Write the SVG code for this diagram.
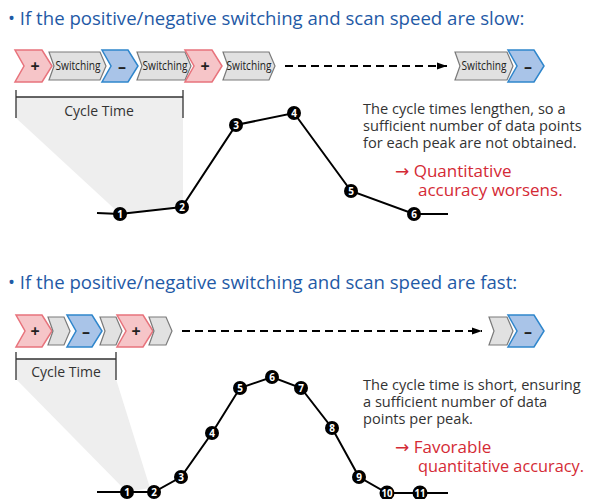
<svg xmlns="http://www.w3.org/2000/svg" width="589" height="499" viewBox="0 0 589 499">
<defs>
<style>
.title{font-family:"Open Sans","Noto Sans",sans-serif;font-size:18.6px;fill:#1f5aa6}
.body{font-family:"Open Sans","Noto Sans",sans-serif;font-size:14.6px;fill:#333}
.red{font-family:"Open Sans","Noto Sans",sans-serif;font-size:17px;fill:#d42a35}
.arw{font-family:"DejaVu Sans",sans-serif}
.pos{fill:#f6c5c8;stroke:#e8737c;stroke-width:1.5}
.neg{fill:#a9c4e8;stroke:#2f86cc;stroke-width:1.5}
.sw{fill:#e1e1e1;stroke:#7a7a7a;stroke-width:1.2}
.sign{font-family:"Open Sans","Noto Sans",sans-serif;font-size:16px;font-weight:bold;fill:#222;text-anchor:middle}
.swt{font-family:"Open Sans","Noto Sans",sans-serif;font-size:12px;fill:#222;text-anchor:middle}
.shade{fill:#eeeeee}
.brk{fill:none;stroke:#333;stroke-width:1.3}
.ct{font-family:"Open Sans","Noto Sans",sans-serif;font-size:14px;fill:#333;text-anchor:middle}
.curve{fill:none;stroke:#000;stroke-width:2}
.dash{fill:none;stroke:#000;stroke-width:2;stroke-dasharray:8,5}
.pt circle{fill:#000}
.pt text{font-family:"Open Sans","Noto Sans",sans-serif;font-size:10px;font-weight:bold;fill:#fff;text-anchor:middle}
</style>
<marker id="arr" viewBox="0 0 10 10" refX="10" refY="5" markerWidth="10" markerHeight="10" markerUnits="userSpaceOnUse" orient="auto">
<path d="M0,1.5 L10,5 L0,8.5 Z" fill="#000"/>
</marker>
</defs>

<!-- Section 1 -->
<text class="title" x="8" y="25">• If the positive/negative switching and scan speed are slow:</text>

<g id="shade1"><polygon class="shade" points="16,97 183,97 183,205 120,214 16,118"/></g>

<g id="seq1">
<polygon class="pos" points="15,50 42,50 52,66 42,82 15,82 24,66"/><text class="sign" x="35" y="71.5">+</text>
<polygon class="sw" points="49,52 100,52 106,66 100,80 49,80 54,66"/><text class="swt" x="78" y="70" textLength="45" lengthAdjust="spacingAndGlyphs">Switching</text>
<polygon class="neg" points="102,50 128,50 138,66 128,82 102,82 111,66"/><text class="sign" x="122" y="71.5">–</text>
<polygon class="sw" points="137,52 185,52 191,66 185,80 137,80 142,66"/><text class="swt" x="165" y="70" textLength="45" lengthAdjust="spacingAndGlyphs">Switching</text>
<polygon class="pos" points="185,50 212,50 222,66 212,82 185,82 194,66"/><text class="sign" x="205" y="71.5">+</text>
<polygon class="sw" points="223,52 269,52 275,66 269,80 223,80 228,66"/><text class="swt" x="249" y="70" textLength="45" lengthAdjust="spacingAndGlyphs">Switching</text>
<polygon class="sw" points="455,52 507,52 513,66 507,80 455,80 460,66"/><text class="swt" x="484" y="70" textLength="45" lengthAdjust="spacingAndGlyphs">Switching</text>
<polygon class="neg" points="508,50 534,50 544,66 534,82 508,82 517,66"/><text class="sign" x="528" y="71.5">–</text>
</g>

<g id="bracket1">
<path class="brk" d="M16,90 V118 M183,90 V118 M16,97 H183"/>
<text class="ct" x="99" y="116">Cycle Time</text>
</g>

<g id="connectors1">
<line class="dash" x1="285" y1="66" x2="447" y2="66" marker-end="url(#arr)"/>
<polyline class="curve" points="97,213 120,214 182,207 236,125 294,113 351,191 414,214 448,214"/>
</g>

<g id="points1" class="pt">
<g id="p1a"><circle cx="120" cy="214" r="7"/><text x="120" y="217.5">1</text></g>
<g id="p2a"><circle cx="182" cy="207" r="7"/><text x="182" y="210.5">2</text></g>
<g id="p3a"><circle cx="236" cy="125" r="7"/><text x="236" y="128.5">3</text></g>
<g id="p4a"><circle cx="294" cy="113" r="7"/><text x="294" y="116.5">4</text></g>
<g id="p5a"><circle cx="351" cy="191" r="7"/><text x="351" y="194.5">5</text></g>
<g id="p6a"><circle cx="414" cy="214" r="7"/><text x="414" y="217.5">6</text></g>
</g>

<g id="note1">
<text class="body" x="363" y="114">The cycle times lengthen, so a</text>
<text class="body" x="363" y="131">sufficient number of data points</text>
<text class="body" x="363" y="148">for each peak are not obtained.</text>
<text class="red" x="395" y="177"><tspan class="arw">→</tspan> Quantitative</text>
<text class="red" x="418" y="196">accuracy worsens.</text>
</g>

<!-- Section 2 -->
<text class="title" x="8" y="289">• If the positive/negative switching and scan speed are fast:</text>

<g id="shade2"><polygon class="shade" points="16,359 116,359 116,379 150,488 127,492 16,379"/></g>

<g id="seq2">
<polygon class="pos" points="16,315 42,315 52,331 42,347 16,347 25,331"/><text class="sign" x="35" y="336.5">+</text>
<polygon class="sw" points="48,317 64,317 70,331 64,345 48,345 53,331"/>
<polygon class="neg" points="67,315 92,315 102,331 92,347 67,347 76,331"/><text class="sign" x="86" y="336.5">–</text>
<polygon class="sw" points="100,317 116,317 122,331 116,345 100,345 105,331"/>
<polygon class="pos" points="117,315 143,315 153,331 143,347 117,347 126,331"/><text class="sign" x="136" y="336.5">+</text>
<polygon class="sw" points="149,317 166,317 172,331 166,345 149,345 154,331"/>
<polygon class="sw" points="489,317 507,317 513,331 507,345 489,345 494,331"/>
<polygon class="neg" points="508,315 534,315 544,331 534,347 508,347 517,331"/><text class="sign" x="528" y="336.5">–</text>
</g>

<g id="bracket2">
<path class="brk" d="M16,352 V380 M116,352 V380 M16,359 H116"/>
<text class="ct" x="66" y="377">Cycle Time</text>
</g>

<g id="connectors2">
<line class="dash" x1="182" y1="331" x2="482" y2="331" marker-end="url(#arr)"/>
<polyline class="curve" points="97,492 127,492 154,492 181,477 212,433 240,388 272,377 301,388 332,428 359,477 387,493 420,493 448,493"/>
</g>

<g id="points2" class="pt">
<g id="p1b"><circle cx="127" cy="492" r="7"/><text x="127" y="495.5">1</text></g>
<g id="p2b"><circle cx="154" cy="492" r="7"/><text x="154" y="495.5">2</text></g>
<g id="p3b"><circle cx="181" cy="477" r="7"/><text x="181" y="480.5">3</text></g>
<g id="p4b"><circle cx="212" cy="433" r="7"/><text x="212" y="436.5">4</text></g>
<g id="p5b"><circle cx="240" cy="388" r="7"/><text x="240" y="391.5">5</text></g>
<g id="p6b"><circle cx="272" cy="377" r="7"/><text x="272" y="380.5">6</text></g>
<g id="p7b"><circle cx="301" cy="388" r="7"/><text x="301" y="391.5">7</text></g>
<g id="p8b"><circle cx="332" cy="428" r="7"/><text x="332" y="431.5">8</text></g>
<g id="p9b"><circle cx="359" cy="477" r="7"/><text x="359" y="480.5">9</text></g>
<g id="p10b"><circle cx="387" cy="493" r="7.5"/><text x="387" y="496.5" textLength="11" lengthAdjust="spacingAndGlyphs">10</text></g>
<g id="p11b"><circle cx="420" cy="493" r="7.5"/><text x="420" y="496.5" textLength="11" lengthAdjust="spacingAndGlyphs">11</text></g>
</g>

<g id="note2">
<text class="body" x="363" y="390">The cycle time is short, ensuring</text>
<text class="body" x="363" y="407">a sufficient number of data</text>
<text class="body" x="363" y="424">points per peak.</text>
<text class="red" x="395" y="453"><tspan class="arw">→</tspan> Favorable</text>
<text class="red" x="418" y="472" textLength="166" lengthAdjust="spacingAndGlyphs">quantitative accuracy.</text>
</g>
</svg>
